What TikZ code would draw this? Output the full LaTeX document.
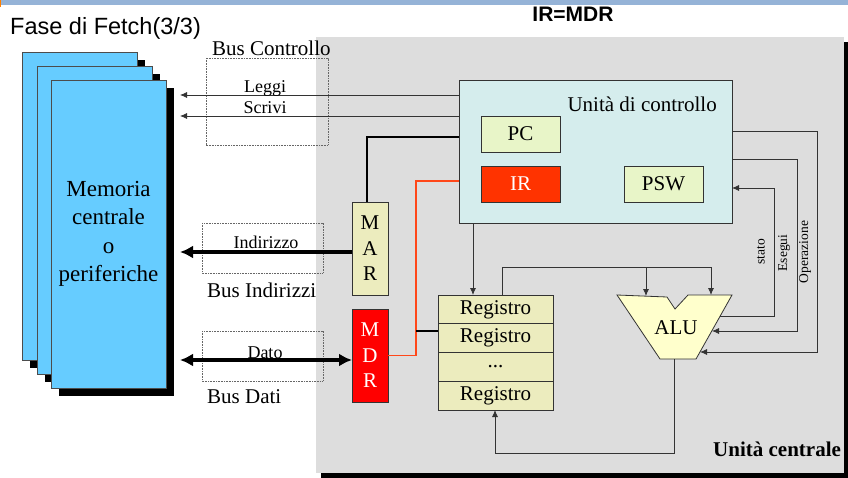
\documentclass[tikz,border=0pt]{standalone}
\usepackage{fontspec}
\setmainfont{Liberation Serif}
\newfontfamily\arialfont{Liberation Sans}
\usetikzlibrary{positioning,arrows.meta}

\definecolor{barblue}{RGB}{149,179,215}
\definecolor{memblue}{RGB}{102,204,255}
\definecolor{cpugray}{RGB}{221,221,221}
\definecolor{cucyan}{RGB}{213,237,237}
\definecolor{pcgreen}{RGB}{232,245,200}
\definecolor{regkhaki}{RGB}{236,236,190}
\definecolor{irred}{RGB}{255,51,0}
\definecolor{alucream}{RGB}{255,255,204}

\tikzset{
  bigtext/.style={font=\fontsize{21}{24}\selectfont},
  midtext/.style={font=\fontsize{18}{20}\selectfont},
  sidetext/.style={font=\fontsize{13.5}{15}\selectfont, rotate=90, inner sep=0pt},
  unitbox/.style={draw=black!80, line width=0.8pt, inner sep=0pt, outer sep=0pt},
  smallreg/.style={unitbox, bigtext, minimum width=79, minimum height=36},
  regrow/.style={unitbox, bigtext, fill=regkhaki, minimum width=115, minimum height=28.75},
  busreg/.style={unitbox, font=\fontsize{21}{25.5}\selectfont, minimum width=36, minimum height=93, align=center},
  wire/.style={draw=black!80, line width=0.8pt},
  wirearrow/.style={wire, -{Latex[length=7pt,width=6pt]}},
  busarrow/.style={line width=3.5pt, -{Latex[length=13pt,width=13pt]}},
  busboth/.style={line width=3.5pt, {Latex[length=13pt,width=13pt]}-{Latex[length=13pt,width=13pt]}},
  busframe/.style={draw=black!60, line width=0.6pt, dash pattern=on 0.8pt off 0.8pt},
  irline/.style={draw=irred!90, line width=1.2pt},
}

\begin{document}
\begin{tikzpicture}[x=1pt,y=-1pt]
\newcommand{\shd}{8}
\useasboundingbox (0,0) rectangle (848,478);

% Draw the title bar and the titles
\fill[barblue] (0,0) rectangle (848,5);
\fill[orange] (0,0) rectangle (1.2,7);
\node[anchor=base west, inner sep=0pt, font=\arialfont\fontsize{23.5}{26}\selectfont] (title) at (10,35) {Fase di Fetch(3/3)};
\node[anchor=base, inner sep=0pt, font=\arialfont\bfseries\fontsize{21}{24}\selectfont] (phase) at (573,22) {IR=MDR};

% Draw the grey central unit with its shadow
\fill[black] (321,42) rectangle (848,478);
\fill[cpugray] (316,37) rectangle (844,473);

% Draw the three memory cards
\fill[black] (22+\shd,52+\shd) rectangle (137+\shd,360+\shd);
\draw[fill=memblue, draw=black!70] (22,52) rectangle (137,360);
\fill[black] (37+\shd,66+\shd) rectangle (152+\shd,374+\shd);
\draw[fill=memblue, draw=black!70] (37,66) rectangle (152,374);
\fill[black] (51+\shd,80+\shd) rectangle (166+\shd,388+\shd);
\node[draw=black!70, fill=memblue, minimum width=115, minimum height=308, inner sep=0pt, outer sep=0pt, align=center, font=\fontsize{23}{28.5}\selectfont] (mem) at (108.5,234) {Memoria\\centrale\\o\\periferiche};

% Draw the dotted frames of the buses
\draw[busframe] (206,58) rectangle (328,145);
\draw[busframe] (202,223) rectangle (323,273);
\draw[busframe] (202,331) rectangle (323,381);
\node[bigtext, anchor=base west, inner sep=0pt] (busc) at (212,56) {Bus Controllo};
\node[bigtext, anchor=base west, inner sep=0pt] (busi) at (207,297) {Bus Indirizzi};
\node[bigtext, anchor=base west, inner sep=0pt] (busd) at (207,403) {Bus Dati};

% Control unit and its registers
\node[unitbox, fill=cucyan, minimum width=273, minimum height=143] (cu) at (595.5,152) {};
\node[bigtext, anchor=base east, inner sep=0pt] (culabel) at (717,112) {Unità di controllo};
\node[smallreg, fill=pcgreen] (pc) at (520.5,134) {PC};
\node[smallreg, fill=irred, text=white] (ir) at (520.5,184) {IR};
\node[smallreg, fill=pcgreen] (psw) at (663.5,184) {PSW};

% MAR and MDR
\node[busreg, fill=regkhaki] (mar) at (370,248.5) {M\\A\\R};
\node[busreg, fill=red, text=white] (mdr) at (370,355.5) {M\\D\\R};

% Register file
\node[regrow] (reg1) at (495.5,309.375) {Registro};
\node[regrow, below=0pt of reg1] (reg2) {Registro};
\node[regrow, below=0pt of reg2] (reg3) {...};
\node[regrow, below=0pt of reg3] (reg4) {Registro};

% ALU
\coordinate (aluA) at (617,295);
\coordinate (aluB) at (667,297);
\coordinate (aluC) at (675,309);
\coordinate (aluD) at (688,295);
\coordinate (aluE) at (732,295);
\coordinate (aluF) at (696,359);
\coordinate (aluG) at (660,359);
\draw[fill=alucream, draw=black!80, line width=0.8pt] (aluA) -- (aluB) -- (aluC) -- (aluD) -- (aluE) -- (aluF) -- (aluG) -- cycle;
\node[bigtext] (alu) at (676,328) {ALU};

% Control bus
\coordinate (leggiEnd) at (180,95);
\coordinate (scriviEnd) at (180,116);
\draw[wirearrow] (cu.west |- leggiEnd) -- (leggiEnd);
\draw[wirearrow] (cu.west |- scriviEnd) -- (scriviEnd);
\node[midtext, anchor=base, inner sep=0pt] (leggi) at (265,93) {Leggi};
\node[midtext, anchor=base, inner sep=0pt] (scrivi) at (265,114) {Scrivi};

% Address bus
\coordinate (marJ) at (367,137);
\draw[line width=1.6pt] (mar.north -| marJ) -- (marJ) -- (cu.west |- marJ);
\coordinate (addrEnd) at (180,252);
\draw[busarrow] (mar.west |- addrEnd) -- (addrEnd);
\node[midtext, anchor=base, inner sep=0pt] (indir) at (266,249) {Indirizzo};

% Data bus
\coordinate (dataEnd) at (180,360);
\draw[busboth] (mdr.west |- dataEnd) -- (dataEnd);
\node[midtext, anchor=base, inner sep=0pt] (dato) at (265,358) {Dato};

% IR from MDR, and the registers
\coordinate (irJ) at (416,181);
\draw[irline] (cu.west |- irJ) -- (irJ) |- (mdr.east);
\coordinate (regJ) at (416,331);
\draw[line width=1.2pt] (regJ) -- (reg2.west |- regJ);

% Control unit to registers
\coordinate (regIn) at (473,295);
\draw[wirearrow] (cu.south -| regIn) -- (reg1.north -| regIn);

% Registers to ALU
\coordinate (aluTap) at (502,267);
\coordinate (aluInA) at (646,296);
\coordinate (aluInB) at (711,295);
\draw[wire] (reg1.north -| aluTap) -- (aluTap) -- (aluTap -| aluInB);
\draw[wirearrow] (aluTap -| aluInA) -- (aluInA);
\draw[wirearrow] (aluTap -| aluInB) -- (aluInB);

% ALU back to registers
\coordinate (aluOut) at (674,359);
\coordinate (loopJ) at (495,453);
\draw[wirearrow] (aluOut) |- (loopJ) -- (reg4.south -| loopJ);

% Signals between control unit and ALU
\coordinate (opJ) at (817,131);
\coordinate (opTip) at (700,352);
\draw[wirearrow] (cu.east |- opJ) -- (opJ) |- (opTip);
\coordinate (exJ) at (797,159);
\coordinate (exTip) at (712,331);
\draw[wirearrow] (cu.east |- exJ) -- (exJ) |- (exTip);
\coordinate (stJ) at (774,188);
\coordinate (stOut) at (720,316);
\draw[wirearrow] (stOut) -- (stOut -| stJ) -- (stJ) -- (cu.east |- stJ);

% Add labels
\node[sidetext] (stato) at (761,252) {stato};
\node[sidetext] (esegui) at (784,253) {Esegui};
\node[sidetext] (oper) at (805,252) {Operazione};
\node[anchor=base west, inner sep=0pt, font=\bfseries\fontsize{21}{24}\selectfont] (cpu) at (713,456) {Unità centrale};

\end{tikzpicture}
\end{document}
